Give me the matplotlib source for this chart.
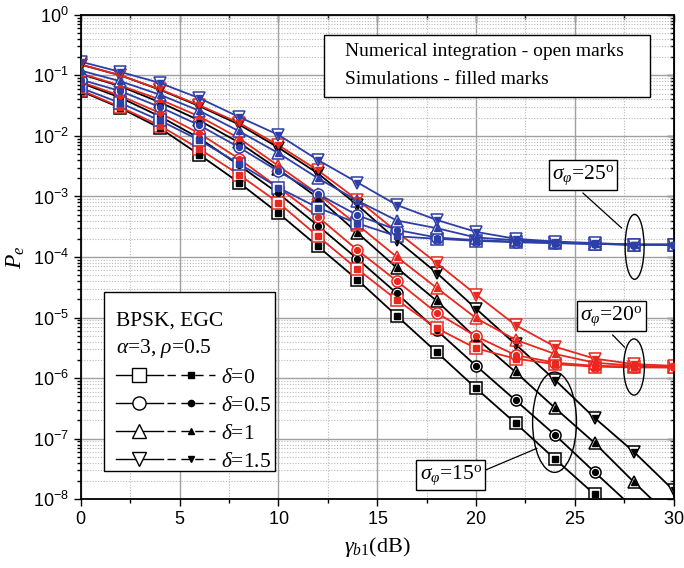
import numpy as np
import matplotlib.pyplot as plt
from matplotlib.lines import Line2D
from matplotlib.patches import Ellipse, Rectangle
from matplotlib.legend_handler import HandlerTuple
from matplotlib.ticker import LogLocator, MultipleLocator, FuncFormatter, NullFormatter

plt.rcParams['font.family'] = 'Liberation Serif'
plt.rcParams['mathtext.fontset'] = 'custom'
plt.rcParams['mathtext.rm'] = 'Liberation Serif'
plt.rcParams['mathtext.it'] = 'Liberation Serif:italic'
plt.rcParams['mathtext.bf'] = 'Liberation Serif:bold'
plt.rcParams['mathtext.sf'] = 'Liberation Sans'

## data, SNR in dB
snr = np.arange(0, 31, 2)
deltas = ['0', '0.5', '1', '1.5']
markers = ['s', 'o', '^', 'v']

# sigma_phi = 15 deg
pe15_d0 = [0.055, 0.029, 0.0135, 0.0049, 0.0017, 5.3e-4, 1.5e-4, 4.2e-5, 1.06e-5, 2.7e-6, 6.8e-7, 1.8e-7, 4.6e-8, 1.2e-8, 3e-9, 8e-10]
pe15_d05 = [0.075, 0.043, 0.021, 0.0092, 0.0033, 1.12e-3, 3.3e-4, 9.3e-5, 2.5e-5, 6.2e-6, 1.6e-6, 4.3e-7, 1.15e-7, 2.8e-8, 7e-9, 1.8e-9]
pe15_d1 = [0.105, 0.066, 0.036, 0.018, 0.0078, 0.0028, 9.5e-4, 2.5e-4, 6.6e-5, 1.9e-5, 4.6e-6, 1.26e-6, 3.2e-7, 8.5e-8, 1.9e-8, 4.5e-9]
pe15_d15 = [0.15, 0.10, 0.058, 0.031, 0.0155, 0.0064, 0.0024, 7.2e-4, 1.9e-4, 5.5e-5, 1.4e-5, 3.6e-6, 9.3e-7, 2.2e-7, 6e-8, 1.4e-8]

# sigma_phi = 20 deg
pe20_d0 = [0.057, 0.030, 0.0148, 0.0061, 0.0023, 7.9e-4, 2.2e-4, 6.3e-5, 1.95e-5, 6.7e-6, 3.1e-6, 2.1e-6, 1.7e-6, 1.55e-6, 1.5e-6, 1.5e-6]
pe20_d05 = [0.078, 0.046, 0.024, 0.011, 0.0042, 0.0014, 4.6e-4, 1.3e-4, 4.0e-5, 1.2e-5, 4.9e-6, 2.4e-6, 1.8e-6, 1.6e-6, 1.55e-6, 1.5e-6]
pe20_d1 = [0.107, 0.068, 0.040, 0.021, 0.0092, 0.0032, 1.1e-3, 3.4e-4, 1.0e-4, 3.1e-5, 9.8e-6, 4.3e-6, 2.5e-6, 1.8e-6, 1.6e-6, 1.55e-6]
pe20_d15 = [0.152, 0.10, 0.059, 0.032, 0.0165, 0.0070, 2.7e-3, 8.8e-4, 2.6e-4, 8e-5, 2.4e-5, 7.5e-6, 3.3e-6, 2.1e-6, 1.7e-6, 1.6e-6]

# sigma_phi = 25 deg
pe25_d0 = [0.062, 0.035, 0.018, 0.0085, 0.0035, 1.4e-3, 6.5e-4, 3.6e-4, 2.2e-4, 2.0e-4, 1.85e-4, 1.75e-4, 1.7e-4, 1.65e-4, 1.6e-4, 1.6e-4]
pe25_d05 = [0.085, 0.055, 0.030, 0.015, 0.0065, 2.6e-3, 1.1e-3, 4.9e-4, 2.8e-4, 2.1e-4, 1.9e-4, 1.8e-4, 1.7e-4, 1.65e-4, 1.6e-4, 1.6e-4]
pe25_d1 = [0.12, 0.08, 0.048, 0.026, 0.012, 5.2e-3, 2.0e-3, 8.5e-4, 4.0e-4, 3.0e-4, 2.1e-4, 1.9e-4, 1.75e-4, 1.65e-4, 1.6e-4, 1.6e-4]
pe25_d15 = [0.168, 0.114, 0.075, 0.042, 0.0206, 0.0104, 4.0e-3, 1.7e-3, 7.2e-4, 4.1e-4, 2.6e-4, 2.0e-4, 1.8e-4, 1.7e-4, 1.6e-4, 1.6e-4]

col_15 = 'black'
col_20 = '#e8281e'
col_25 = '#2d3ea6'

groups = [(col_15, [pe15_d0, pe15_d05, pe15_d1, pe15_d15]),
          (col_20, [pe20_d0, pe20_d05, pe20_d1, pe20_d15]),
          (col_25, [pe25_d0, pe25_d05, pe25_d1, pe25_d15])]

fig = plt.figure(figsize=(6.84, 5.68), dpi=100)
ax = fig.add_axes([0.118, 0.121, 0.867, 0.853])

for c, curves in groups:
    for pe, m in zip(curves, markers):
        # numerical integration: line + open marks
        ax.plot(snr, pe, color=c, lw=1.3, marker=m, ms=8, mfc='white', mec=c, mew=1.1, zorder=2)
        # simulation: filled marks
        ax.plot(snr, pe, ls='none', color=c, marker=m, ms=4.2, zorder=3)

ax.set_yscale('log')
ax.set_xlim(0, 30)
ax.set_ylim(1e-8, 1)
ax.xaxis.set_major_locator(MultipleLocator(5))
ax.xaxis.set_minor_locator(MultipleLocator(2.5))
ax.yaxis.set_major_locator(LogLocator(base=10, numticks=20))
ax.yaxis.set_minor_locator(LogLocator(base=10, subs=np.arange(2, 10), numticks=20))
ax.yaxis.set_minor_formatter(NullFormatter())
ax.yaxis.set_major_formatter(FuncFormatter(lambda v, p: r'$\mathsf{10^{%d}}$' % int(round(np.log10(v)))))
ax.xaxis.set_major_formatter(FuncFormatter(lambda v, p: r'$\mathsf{%d}$' % v))
ax.tick_params(which='both', direction='out', labelsize=13, width=1)
ax.tick_params(which='major', length=5)
ax.tick_params(which='minor', length=3)
ax.grid(which='major', color='#a0a0a0', lw=1.0, ls='-')
ax.grid(which='minor', color='#b8b8b8', lw=0.8, ls=(0, (1, 1.5)))
ax.set_axisbelow(True)
for s in ax.spines.values():
    s.set_linewidth(1.3)

# mirrored ticks pointing inwards
secx = ax.secondary_xaxis('top')
secx.xaxis.set_major_locator(MultipleLocator(5))
secx.xaxis.set_minor_locator(MultipleLocator(2.5))
secx.tick_params(which='both', direction='in', labeltop=False, width=1)
secx.tick_params(which='major', length=5)
secx.tick_params(which='minor', length=3)
secy = ax.secondary_yaxis('right')
secy.yaxis.set_major_locator(LogLocator(base=10, numticks=20))
secy.yaxis.set_minor_locator(LogLocator(base=10, subs=np.arange(2, 10), numticks=20))
secy.tick_params(which='both', direction='in', labelright=False, width=1)
secy.tick_params(which='major', length=5)
secy.tick_params(which='minor', length=3)

ax.set_xlabel(r'$\gamma_{b1}$(dB)', fontsize=16, labelpad=5)
ax.set_ylabel(r'$P_e$', fontsize=17, labelpad=4)

# legend (frame drawn separately)
ax.add_patch(Rectangle((0.0388, 0.0579), 0.288, 0.370, transform=ax.transAxes,
                       facecolor='white', edgecolor='k', lw=1.0, zorder=4.5))
handles = []
labels = []
for d, m in zip(deltas, markers):
    h_open = Line2D([], [], color='k', lw=1, marker=m, ms=9.5, mfc='white', mec='k')
    h_fill = Line2D([], [], color='k', lw=1, ls=(0, (6, 4)), marker=m, ms=4.5)
    handles.append((h_open, h_fill))
    labels.append(r'$\delta$=' + d)
leg = ax.legend(handles, labels, handler_map={tuple: HandlerTuple(ndivide=None, pad=0.2)},
                loc='upper left', bbox_to_anchor=(0.039, 0.411), borderaxespad=0,
                title='BPSK, EGC\n' + r'$\alpha$=3, $\rho$=0.5', alignment='left',
                fontsize=15.5, title_fontsize=15.5, handlelength=4.6, handletextpad=0.3,
                labelspacing=0.37, frameon=False, borderpad=0.55)
leg.get_title().set_linespacing(1.35)

# info box
ax.add_patch(Rectangle((0.411, 0.831), 0.549, 0.128, transform=ax.transAxes,
                       facecolor='white', edgecolor='k', lw=1.0, zorder=5))
ax.text(0.445, 0.924, 'Numerical integration - open marks', transform=ax.transAxes,
        fontsize=14, va='center', ha='left', zorder=6)
ax.text(0.445, 0.866, 'Simulations - filled marks', transform=ax.transAxes,
        fontsize=14, va='center', ha='left', zorder=6)

# sigma annotations
box = dict(boxstyle='square,pad=0.15', fc='white', ec='k', lw=1.0)
notes = [('25', (0.847, 0.669), (0.847, 0.632), (0.912, 0.560), (0.934, 0.521), 0.032, 0.134),
         ('20', (0.895, 0.378), (0.897, 0.339), (0.917, 0.314), (0.933, 0.273), 0.035, 0.116),
         ('15', (0.624, 0.050), (0.678, 0.058), (0.769, 0.105), (0.799, 0.159), 0.074, 0.207)]
for val, pos, p0, p1, ec, ew, eh in notes:
    ax.text(pos[0], pos[1], r'$\sigma_{\varphi}$=' + val + r'$^{\mathrm{o}}$', transform=ax.transAxes,
            fontsize=15.5, ha='center', va='center', bbox=box, zorder=6)
    ax.plot([p0[0], p1[0]], [p0[1], p1[1]], color='k', lw=0.9, transform=ax.transAxes, zorder=5)
    ax.add_patch(Ellipse(ec, ew, eh, transform=ax.transAxes, fill=False, ec='k', lw=1.0, zorder=5))

fig.savefig('out.png', dpi=100)
